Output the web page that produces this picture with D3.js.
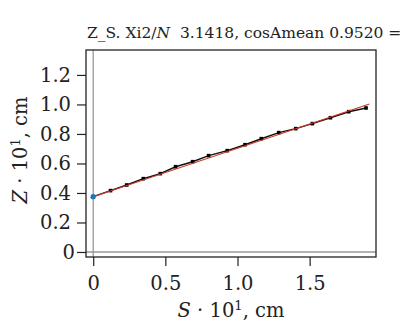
<!DOCTYPE html>
<html>
<head>
<meta charset="utf-8">
<script src="https://cdn.jsdelivr.net/npm/d3@7"></script>
<style>
  body { margin: 0; background: #fff; }
  svg { display: block; font-family: "DejaVu Serif", serif; }
  .frame { fill: none; stroke: #222; stroke-width: 1.3; }
  .zero { stroke: #999; stroke-width: 1.3; }
  .axis path { display: none; }
  .axis line { stroke: #222; stroke-width: 1.2; }
  .axis text { font-family: "DejaVu Serif", serif; font-size: 19.5px; fill: #222; }
</style>
</head>
<body>
<svg id="chart"></svg>
<script>
const width = 410,
      height = 326;

// measured S, Z (both * 10^1, cm)
var sVals = [0, 0.12, 0.232, 0.347, 0.465, 0.571, 0.689, 0.80, 0.929, 1.052, 1.165, 1.286, 1.404, 1.519, 1.644, 1.771, 1.891];
var zVals = [0.375, 0.416, 0.454, 0.497, 0.531, 0.578, 0.612, 0.653, 0.687, 0.727, 0.768, 0.809, 0.836, 0.870, 0.910, 0.951, 0.976];

// fitted straight line
var fitS = [-0.02, 1.914];
var fitZ = [0.368, 1.003];

var xTicks = [0, 0.5, 1.0, 1.5],
    xTickLabels = ["0", "0.5", "1.0", "1.5"];
var yTicks = [0, 0.2, 0.4, 0.6, 0.8, 1.0, 1.2],
    yTickLabels = ["0", "0.2", "0.4", "0.6", "0.8", "1.0", "1.2"];

var titleText = ["Z_S. Xi2/", "N", "  3.1418, cosAmean 0.9520 ="];

const box = {left: 86, right: 376, top: 50, bottom: 257};

var x = d3.scaleLinear()
    .domain([-0.05, 1.96])
    .range([box.left, box.right]);

var y = d3.scaleLinear()
    .domain([-0.034, 1.369])
    .range([box.bottom, box.top]);

var svg = d3.select("svg#chart")
    .attr("width", width)
    .attr("height", height);

// zero lines
svg.append("line")
    .attr("class", "zero")
    .attr("x1", x(0)).attr("x2", x(0))
    .attr("y1", box.top).attr("y2", box.bottom);
svg.append("line")
    .attr("class", "zero")
    .attr("x1", box.left).attr("x2", box.right)
    .attr("y1", y(0)).attr("y2", y(0));

var xAxis = svg.append("g")
    .attr("class", "axis x-axis")
    .attr("transform", "translate(0," + box.bottom + ")")
    .call(d3.axisBottom(x)
        .tickValues(xTicks)
        .tickFormat((d, i) => xTickLabels[i])
        .tickSize(9)
        .tickPadding(10));

var yAxis = svg.append("g")
    .attr("class", "axis y-axis")
    .attr("transform", "translate(" + box.left + ",0)")
    .call(d3.axisLeft(y)
        .tickValues(yTicks)
        .tickFormat((d, i) => yTickLabels[i])
        .tickSize(9)
        .tickPadding(6));

// the "0" label sits a bit further right in the original
yAxis.selectAll(".tick text")
    .filter(d => d === 0)
    .attr("dx", 4);

svg.append("rect")
    .attr("class", "frame")
    .attr("x", box.left)
    .attr("y", box.top)
    .attr("width", box.right - box.left)
    .attr("height", box.bottom - box.top);

var pts = sVals.map((s, i) => ({s: s, z: zVals[i]}));

var line = d3.line()
    .x(d => x(d.s))
    .y(d => y(d.z));

svg.append("path")
    .datum(pts)
    .attr("d", line)
    .attr("fill", "none")
    .attr("stroke", "#111")
    .attr("stroke-width", 1.5);

svg.selectAll("rect.point")
    .data(pts)
    .enter()
  .append("rect")
    .attr("class", "point")
    .attr("x", d => x(d.s) - 1.8)
    .attr("y", d => y(d.z) - 1.8)
    .attr("width", 3.6)
    .attr("height", 3.6)
    .attr("fill", "#000");

svg.append("path")
    .datum(fitS.map((s, i) => ({s: s, z: fitZ[i]})))
    .attr("d", line)
    .attr("fill", "none")
    .attr("stroke", "#d0382a")
    .attr("stroke-width", 1.1);

svg.append("circle")
    .attr("cx", x(sVals[0]))
    .attr("cy", y(zVals[0]))
    .attr("r", 2.6)
    .attr("fill", "#1f77b4");

// title
var title = svg.append("text")
    .attr("x", 87)
    .attr("y", 38)
    .attr("font-size", "15.5px")
    .attr("fill", "#222")
    .attr("xml:space", "preserve")
    .style("white-space", "pre");
title.append("tspan").text(titleText[0]);
title.append("tspan").attr("font-style", "italic").text(titleText[1]);
title.append("tspan").text(titleText[2]);

// axis labels
function axisLabel(g, sym) {
    g.append("tspan").attr("font-style", "italic").text(sym);
    g.append("tspan").text(" \u00b7 10");
    g.append("tspan").attr("font-size", "13px").attr("dy", "-0.55em").text("1");
    g.append("tspan").attr("dy", "0.36em").text(", cm");
}

var xLabel = svg.append("text")
    .attr("x", (box.left + box.right) / 2)
    .attr("y", 317)
    .attr("text-anchor", "middle")
    .attr("font-size", "19.5px")
    .attr("fill", "#222");
axisLabel(xLabel, "S");

var yLabel = svg.append("text")
    .attr("transform", "translate(27,150)rotate(-90)")
    .attr("text-anchor", "middle")
    .attr("font-size", "19.5px")
    .attr("fill", "#222");
axisLabel(yLabel, "Z");
</script>
</body>
</html>
